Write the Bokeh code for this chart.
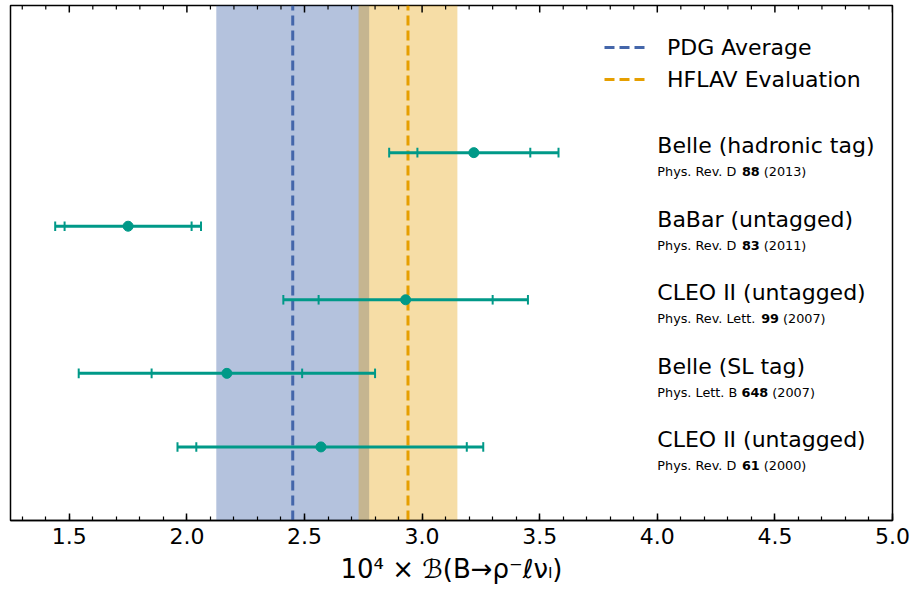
import math
from bokeh.plotting import figure
from bokeh.models import (Range1d, SingleIntervalTicker, PrintfTickFormatter,
                          BoxAnnotation, Legend, LegendItem, ColumnDataSource)
from bokeh.core.properties import value
from bokeh.embed import file_html
from bokeh.resources import INLINE

# ---------------- data ----------------
experiments = ["Belle (hadronic tag)", "BaBar (untagged)", "CLEO II (untagged)",
               "Belle (SL tag)", "CLEO II (untagged)"]
journals = ["Phys. Rev. D", "Phys. Rev. D", "Phys. Rev. Lett.", "Phys. Lett. B", "Phys. Rev. D"]
volumes = ["88", "83", "99", "648", "61"]
years = ["2013", "2011", "2007", "2007", "2000"]
central = [3.22, 1.75, 2.93, 2.17, 2.57]
inner_lo = [0.24, 0.27, 0.37, 0.32, 0.53]
inner_hi = [0.24, 0.27, 0.37, 0.32, 0.62]
outer_lo = [0.36, 0.31, 0.52, 0.63, 0.61]
outer_hi = [0.36, 0.31, 0.52, 0.63, 0.69]
row = [5, 4, 3, 2, 1]

pdg_avg, pdg_err = 2.45, 0.325
hflav_avg, hflav_err = 2.94, 0.21

major_ticks = [1.5, 2.0, 2.5, 3.0, 3.5, 4.0, 4.5, 5.0]
minor_ticks = [1.3, 1.4, 1.6, 1.7, 1.8, 1.9, 2.1, 2.2, 2.3, 2.4, 2.6, 2.7, 2.8, 2.9,
               3.1, 3.2, 3.3, 3.4, 3.6, 3.7, 3.8, 3.9, 4.1, 4.2, 4.3, 4.4, 4.6, 4.7,
               4.8, 4.9]

x_lo, x_hi = 1.25, 5.0
y_lo, y_hi = 0.0, 7.0
label_x = 4.0

FONT = "DejaVu Sans"
TEAL = "#009988"
BLUE = "#4466AA"
ORANGE = "#E69F00"

# DejaVu Sans advance widths (units of 1/2048 em) for offsetting the bold volume numbers
REG = {'P': 1235, 'h': 1298, 'y': 1212, 's': 1067, '.': 651, ' ': 651, 'R': 1423, 'e': 1260,
       'v': 1212, 'D': 1577, 'L': 1141, 't': 803, 'B': 1405, '(': 799, ')': 799}


def width(s, bold=False, size=12.5):
    tot = 0
    for c in s:
        if c.isdigit():
            tot += 1425 if bold else 1303
        else:
            tot += REG.get(c, 1200)
    return tot / 2048 * size


SUB = 12.8
suffix = ["(" + yv + ")" for yv in years]
off_bold = [width(j + " ", size=SUB) for j in journals]
off_suffix = [ob + width(v, bold=True, size=SUB) + width(" ", size=SUB)
              for ob, v in zip(off_bold, volumes)]

p = figure(width=912, height=592, output_backend="svg", toolbar_location=None,
           x_range=Range1d(x_lo, x_hi), y_range=Range1d(y_lo, y_hi),
           min_border_left=10, min_border_right=20, min_border_top=5, min_border_bottom=72)
p.background_fill_color = "white"
p.border_fill_color = "white"
p.outline_line_color = "black"
p.outline_line_width = 1.5
p.outline_line_alpha = 1.0
p.xgrid.visible = False
p.ygrid.visible = False
p.yaxis.visible = False

ax = p.xaxis[0]
ax.ticker = SingleIntervalTicker(interval=0.5, num_minor_ticks=5)
ax.formatter = PrintfTickFormatter(format="%.1f")
ax.major_tick_in = 7
ax.major_tick_out = 0
ax.minor_tick_in = 4
ax.minor_tick_out = 0
ax.major_tick_line_width = 1.5
ax.minor_tick_line_width = 1.2
ax.major_tick_line_color = "black"
ax.minor_tick_line_color = "black"
ax.axis_line_color = "black"
ax.axis_line_width = 1.5
ax.major_label_text_font = FONT
ax.major_label_text_font_size = "22px"
ax.major_label_text_color = "black"
ax.major_label_standoff = 7
ax.axis_label = "10\u2074 \u00d7 \u212c(B\u2192\u03c1\u207b\u2113\u03bd\u2097)"
ax.axis_label_text_font = FONT
ax.axis_label_text_font_size = "26px"
ax.axis_label_text_font_style = "normal"
ax.axis_label_text_color = "black"
ax.axis_label_standoff = 7

# bands
p.add_layout(BoxAnnotation(left=pdg_avg - pdg_err, right=pdg_avg + pdg_err,
                           fill_color=BLUE, fill_alpha=0.4, line_color=None, level="underlay"))
p.add_layout(BoxAnnotation(left=hflav_avg - hflav_err, right=hflav_avg + hflav_err,
                           fill_color=ORANGE, fill_alpha=0.35, line_color=None, level="underlay"))

# inward ticks on the top edge (half of each dash falls outside the frame and is clipped)
p.scatter(x=major_ticks, y=[y_hi] * len(major_ticks), marker="dash", angle=math.pi / 2,
          size=14, line_color="black", line_width=1.5)
p.scatter(x=minor_ticks, y=[y_hi] * len(minor_ticks), marker="dash", angle=math.pi / 2,
          size=8, line_color="black", line_width=1.2)

# average lines
r_pdg = p.segment(x0=[pdg_avg], y0=[y_lo], x1=[pdg_avg], y1=[y_hi],
                  line_color=BLUE, line_width=3, line_dash="10 5")
r_hfl = p.segment(x0=[hflav_avg], y0=[y_lo], x1=[hflav_avg], y1=[y_hi],
                  line_color=ORANGE, line_width=3, line_dash="10 5")

src = ColumnDataSource(dict(
    c=central, y=row,
    olo=[c - e for c, e in zip(central, outer_lo)],
    ohi=[c + e for c, e in zip(central, outer_hi)],
    ilo=[c - e for c, e in zip(central, inner_lo)],
    ihi=[c + e for c, e in zip(central, inner_hi)],
    yb=[r - 0.065 for r in row], yt=[r + 0.065 for r in row],
    exp=experiments, pre=journals, vol=volumes, suf=suffix,
    offb=off_bold, offs=off_suffix,
    lx=[label_x] * len(row),
))

p.segment(x0="olo", y0="y", x1="ohi", y1="y", source=src, line_color=TEAL, line_width=3)
for col in ["olo", "ohi", "ilo", "ihi"]:
    p.segment(x0=col, y0="yb", x1=col, y1="yt", source=src, line_color=TEAL, line_width=2)
p.scatter(x="c", y="y", source=src, size=10, fill_color=TEAL, line_color=TEAL)

# labels
MAIN_DY = -7
SUB_DY = 19
p.text(x="lx", y="y", text="exp", source=src, text_font=value(FONT), text_font_size="22px",
       text_color="black", text_baseline="alphabetic", text_align="left", y_offset=MAIN_DY)
p.text(x="lx", y="y", text="pre", source=src, text_font=value(FONT),
       text_font_size=f"{SUB}px", text_color="black", text_baseline="alphabetic",
       text_align="left", y_offset=SUB_DY)
p.text(x="lx", y="y", text="vol", source=src, text_font=value(FONT),
       text_font_size=f"{SUB}px", text_font_style="bold", text_color="black",
       text_baseline="alphabetic", text_align="left", y_offset=SUB_DY, x_offset="offb")
p.text(x="lx", y="y", text="suf", source=src, text_font=value(FONT),
       text_font_size=f"{SUB}px", text_color="black", text_baseline="alphabetic",
       text_align="left", y_offset=SUB_DY, x_offset="offs")

legend = Legend(items=[LegendItem(label="PDG Average", renderers=[r_pdg]),
                       LegendItem(label="HFLAV Evaluation", renderers=[r_hfl])],
                location=(594, 428), margin=0, padding=0, spacing=6,
                glyph_width=44, glyph_height=26, label_height=26, label_standoff=19,
                label_text_font=FONT, label_text_font_size="22px", label_text_color="black",
                border_line_alpha=0, background_fill_alpha=0)
p.add_layout(legend)

open("out.html", "w").write(file_html(p, INLINE))
